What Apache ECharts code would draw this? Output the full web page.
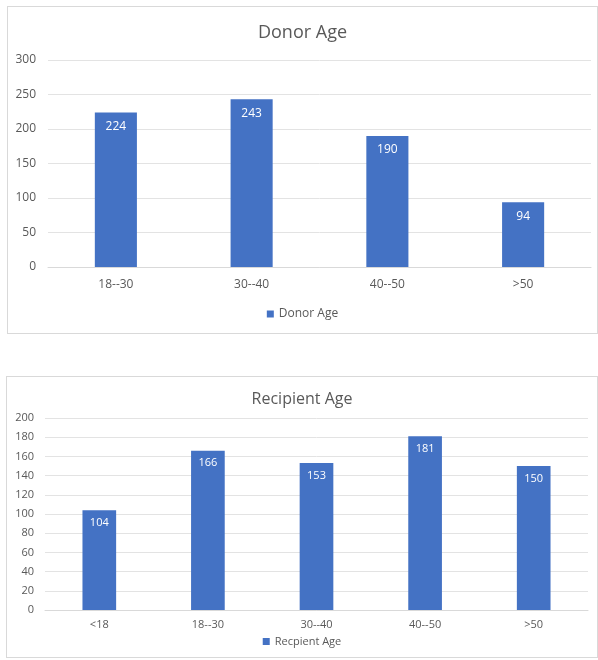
<!DOCTYPE html>
<html>
<head>
<meta charset="utf-8">
<script src="https://cdn.jsdelivr.net/npm/echarts@6/dist/echarts.min.js"></script>
<style>
  html, body { margin: 0; padding: 0; background: #fff; }
  #wrap { position: relative; width: 598px; height: 660px; }
  .panel { position: absolute; border: 1px solid #d9d9d9; box-sizing: border-box; background: #fff; }
  #donor { left: 7px; top: 6px; width: 591px; height: 328px; }
  #recip { left: 6px; top: 376px; width: 592px; height: 282px; }
</style>
</head>
<body>
<div id="wrap">
  <div id="donor" class="panel"></div>
  <div id="recip" class="panel"></div>
</div>
<script>
// Donor age distribution
const donorCategories = ['18--30', '30--40', '40--50', '>50'];
const donorValues = [224, 243, 190, 94];
const donorTicks = [0, 50, 100, 150, 200, 250, 300];

// Recipient age distribution
const recipCategories = ['<18', '18--30', '30--40', '40--50', '>50'];
const recipValues = [104, 166, 153, 181, 150];
const recipTicks = [0, 20, 40, 60, 80, 100, 120, 140, 160, 180, 200];

const FONT = '"Open Sans", "Noto Sans", sans-serif';
const TEXT = '#595959';
const BAR = '#4472C4';

function barChart(el, cfg) {
  const chart = echarts.init(el, null, { renderer: 'canvas' });
  const tickMin = cfg.ticks[0];
  const tickMax = cfg.ticks[cfg.ticks.length - 1];
  chart.setOption({
    animation: false,
    textStyle: { fontFamily: FONT },
    title: {
      text: cfg.title,
      left: 'center',
      top: cfg.titleTop,
      textStyle: { fontFamily: FONT, fontSize: cfg.titleSize, fontWeight: 'normal', color: TEXT }
    },
    legend: {
      data: [cfg.legend],
      bottom: cfg.legendBottom,
      left: 'center',
      icon: 'rect',
      itemWidth: 7,
      itemHeight: 7,
      itemGap: 5,
      textStyle: { fontFamily: FONT, fontSize: cfg.legendSize, color: TEXT }
    },
    grid: cfg.grid,
    xAxis: {
      type: 'category',
      data: cfg.categories,
      axisLine: { show: true, lineStyle: { color: '#d9d9d9', width: 1 } },
      axisTick: { show: false },
      axisLabel: { fontFamily: FONT, fontSize: cfg.axisSize, color: TEXT, margin: cfg.xMargin }
    },
    yAxis: {
      type: 'value',
      min: tickMin,
      max: tickMax,
      interval: cfg.ticks[1] - cfg.ticks[0],
      axisLine: { show: false },
      axisTick: { show: false },
      splitLine: { lineStyle: { color: '#e3e3e3', width: 1 } },
      axisLabel: { fontFamily: FONT, fontSize: cfg.axisSize, color: TEXT, margin: cfg.yMargin }
    },
    series: [{
      name: cfg.legend,
      type: 'bar',
      data: cfg.values,
      barWidth: '31%',
      itemStyle: { color: BAR },
      label: {
        show: true,
        position: 'insideTop',
        distance: cfg.labelDist,
        color: '#ffffff',
        fontFamily: FONT,
        fontSize: cfg.labelSize
      }
    }]
  });
}

barChart(document.getElementById('donor'), {
  title: 'Donor Age',
  titleTop: 12,
  titleSize: 18,
  legend: 'Donor Age',
  legendBottom: 8,
  legendSize: 12,
  categories: donorCategories,
  values: donorValues,
  ticks: donorTicks,
  grid: { left: 40, top: 53, width: 543, height: 207 },
  axisSize: 12,
  xMargin: 12,
  yMargin: 12,
  labelDist: 8,
  labelSize: 12
});

barChart(document.getElementById('recip'), {
  title: 'Recipient Age',
  titleTop: 9,
  titleSize: 16,
  legend: 'Recpient Age',
  legendBottom: 5,
  legendSize: 11,
  categories: recipCategories,
  values: recipValues,
  ticks: recipTicks,
  grid: { left: 38, top: 41, width: 543, height: 192 },
  axisSize: 11,
  xMargin: 9,
  yMargin: 11,
  labelDist: 7,
  labelSize: 11
});
</script>
</body>
</html>
